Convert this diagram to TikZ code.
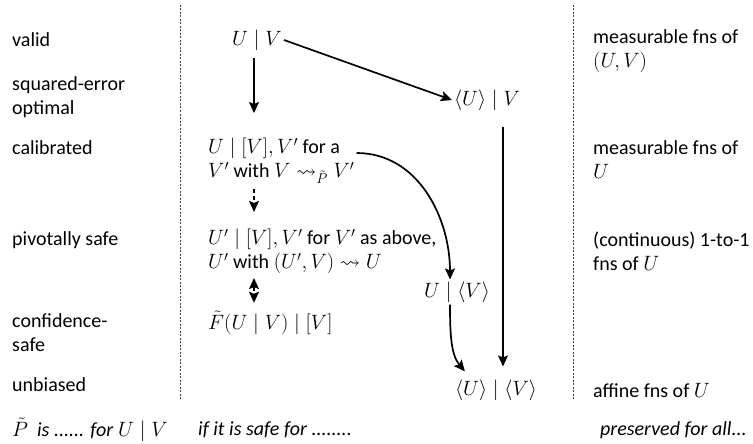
\documentclass[tikz,border=0pt]{standalone}
\usepackage{amsmath,amssymb}
\usepackage{fontspec}
\setmainfont{Carlito}
\usetikzlibrary{arrows.meta, positioning, calc}

\begin{document}
\begin{tikzpicture}[x=1pt, y=-1pt,
    lbl/.style={anchor=west, align=left, inner sep=2pt,
      font=\fontsize{20}{24}\selectfont},
    mathlbl/.style={inner sep=2pt, font=\fontsize{20}{24}\selectfont},
    arrow/.style={-{Stealth[length=11pt, width=10pt, inset=2pt]}, line width=1.7pt},
    dasharrow/.style={arrow, dash pattern=on 4pt off 3pt},
    sep/.style={black!75, line width=0.7pt, dash pattern=on 2pt off 1.5pt}
  ]
  \useasboundingbox (0,0) rectangle (753,444);

  % property column
  \node[lbl] (valid)  at (10,40)    {valid};
  \node[lbl] (sqerr)  at (10,97.5)  {squared-error\\optimal};
  \node[lbl] (calib)  at (10,148)   {calibrated};
  \node[lbl] (pivot)  at (10,240)   {pivotally safe};
  \node[lbl] (conf)   at (10,332.5) {confidence-\\safe};
  \node[lbl] (unbias) at (10,385)   {unbiased};

  % separators
  \coordinate (sepAtop) at (180,5);
  \coordinate (sepAbot) at (180,400);
  \coordinate (sepBtop) at (573,5);
  \coordinate (sepBbot) at (573,400);
  \draw[sep] (sepAtop) -- (sepAbot);
  \draw[sep] (sepBtop) -- (sepBbot);

  % middle column
  \node[mathlbl] (uv) at (257,40) {$U\mid V$};
  \node[lbl] (calibsafe) at (206,161)
    {$U\mid[V],V'$ for a\\$V'$ with $V\rightsquigarrow_{\tilde P}V'$};
  \node[lbl] (pivotsafe) at (206,251.5)
    {$U'\mid[V],V'$ for $V'$ as above,\\$U'$ with $(U',V)\rightsquigarrow U$};
  \node[lbl] (confsafe) at (206,323) {$\tilde F(U\mid V)\mid[V]$};
  \node[mathlbl] (meanuv)   at (487,100) {$\langle U\rangle\mid V$};
  \node[mathlbl] (umeanv)   at (457,292) {$U\mid\langle V\rangle$};
  \node[mathlbl] (meanmean) at (496,390) {$\langle U\rangle\mid\langle V\rangle$};
  \coordinate (spine) at ([xshift=-3pt]uv.south);

  \draw[arrow] (uv.east) -- (meanuv.west);
  \draw[arrow, shorten <=5pt, shorten >=23pt] (spine) -- (spine |- calibsafe.north);
  \draw[dasharrow, shorten <=3pt, shorten >=15pt] (spine |- calibsafe.south) -- (spine |- pivotsafe.north);
  \draw[dasharrow, {Stealth[length=11pt, width=10pt, inset=2pt]}-{Stealth[length=11pt, width=10pt, inset=2pt]}, shorten <=2pt, shorten >=6pt]
    (spine |- pivotsafe.south) -- (spine |- confsafe.north);
  \draw[arrow] ([yshift=8pt]calibsafe.east) to[out=0, in=90] ([xshift=-7pt]umeanv.north);
  \draw[arrow, shorten >=8pt] ([xshift=-7pt]umeanv.south) to[out=-90, in=130] ([xshift=-26pt]meanmean.north);
  \draw[arrow, shorten <=14pt, shorten >=11pt] ([xshift=16pt]meanuv.south) -- ([xshift=16pt]meanuv.south |- meanmean.north);

  % preserved column
  \node[lbl] (fnsuv)    at (591,51.5)  {measurable fns of\\$(U,V)$};
  \node[lbl] (fnsu)     at (591,160)   {measurable fns of\\$U$};
  \node[lbl] (fnsone)   at (591,251.5) {(continuous) 1-to-1\\fns of $U$};
  \node[lbl] (fnsaff)   at (591,390)   {affine fns of $U$};

  % column heads at the foot
  \node[lbl] (headprop) at (10,430)  {$\tilde P$\ \ \textit{is ...... for} $U\mid V$};
  \node[lbl] (headsafe) at (196,430) {\textit{if it is safe for ........}};
  \node[lbl] (headpres) at (598,430) {\textit{preserved for all...}};
\end{tikzpicture}
\end{document}
